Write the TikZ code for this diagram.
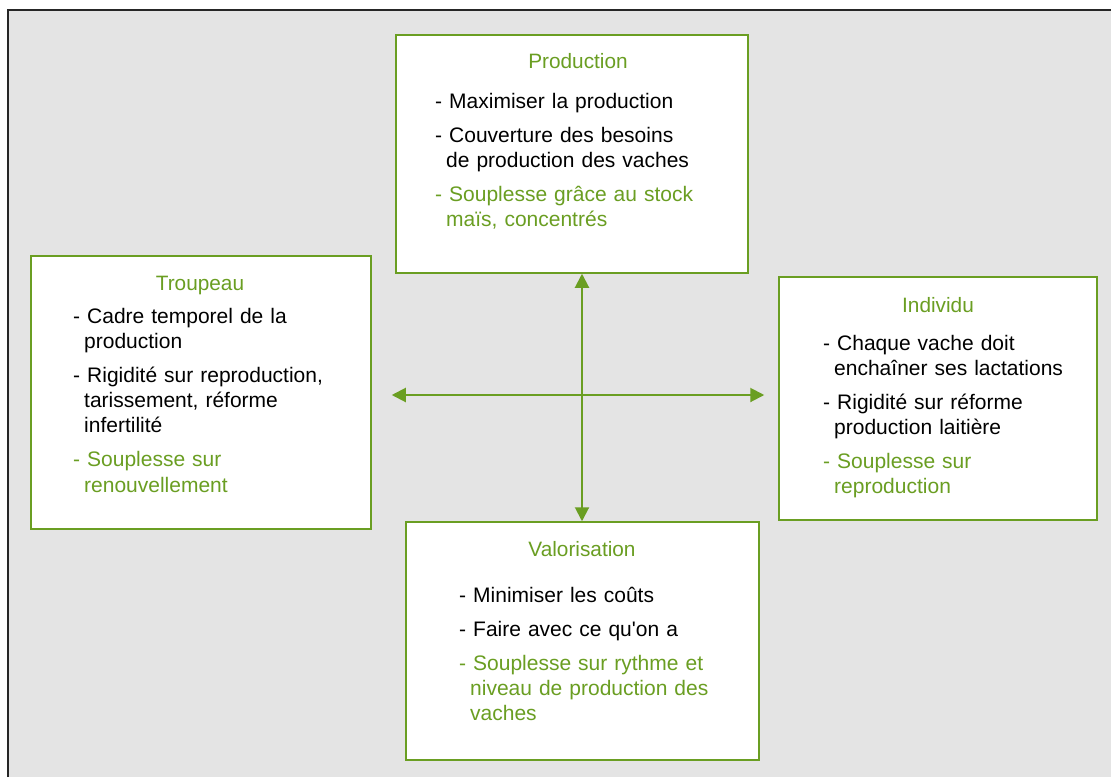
\documentclass[tikz,border=0pt]{standalone}
\usepackage{fontspec}
\setmainfont{Liberation Sans}
\usetikzlibrary{arrows.meta}

\definecolor{vert}{RGB}{106,158,34}
\definecolor{fond}{RGB}{228,228,228}

\tikzset{
  bloc/.style={draw=vert, line width=1.5pt, fill=white, inner sep=0pt},
  titre/.style={anchor=base, text=vert, inner sep=0pt, font=\fontsize{20.8}{25}\selectfont},
  liste/.style={anchor=base west, inner sep=0pt, text width=300pt, align=left, font=\fontsize{21}{25.3}\selectfont},
  fleche/.style={draw=vert, line width=2pt, {Triangle[length=14pt,width=14pt]}-{Triangle[length=14pt,width=14pt]}}
}
\newcommand{\ret}{\hspace*{11pt}}

\begin{document}
\begin{tikzpicture}[x=1pt,y=-1pt]
    			\useasboundingbox (0,0) rectangle (1111,777);
    			%Background
    			\fill[fond] (8,10) rectangle (1111,777);
    			\draw[line width=2pt, black!85] (8,777) -- (8,10) -- (1111,10);

    			%Boxes
    			\node[bloc, minimum width=352pt, minimum height=238pt] (prod) at (572,154) {};
    			\node[bloc, minimum width=340pt, minimum height=273pt] (troup) at (201,392.5) {};
    			\node[bloc, minimum width=318pt, minimum height=243pt] (indiv) at (938,398.5) {};
    			\node[bloc, minimum width=353pt, minimum height=238pt] (valo) at (582.5,641) {};

    			%Titles
    			\node[titre] (prodtitre) at (578,68) {Production};
    			\node[titre] (trouptitre) at (200,290) {Troupeau};
    			\node[titre] (indivtitre) at (938,312) {Individu};
    			\node[titre] (valotitre) at (582,556) {Valorisation};

    			%Lists
    			\node[liste] (prodliste) at (435,108) {- Maximiser la production\\[8.7pt]
      			- Couverture des besoins\\ \ret de production des vaches\\[8.7pt]
      			\color{vert}- Souplesse grâce au stock\\ \ret maïs, concentrés};
    			\node[liste] (troupliste) at (73,323) {- Cadre temporel de la\\ \ret production\\[8.7pt]
      			- Rigidité sur reproduction,\\ \ret tarissement, réforme\\ \ret infertilité\\[8.7pt]
      			\color{vert}- Souplesse sur\\ \ret renouvellement};
    			\node[liste] (indivliste) at (823,350) {- Chaque vache doit\\ \ret enchaîner ses lactations\\[8.7pt]
      			- Rigidité sur réforme\\ \ret production laitière\\[8.7pt]
      			\color{vert}- Souplesse sur\\ \ret reproduction};
    			\node[liste] (valoliste) at (459,602) {- Minimiser les coûts\\[8.7pt]
      			- Faire avec ce qu\textquotesingle on a\\[8.7pt]
      			\color{vert}- Souplesse sur rythme et\\ \ret niveau de production des\\ \ret vaches};

    			%Arrows
    			\coordinate (centre) at (582,395);
    			\draw[fleche] (prod.south -| centre) -- (valo.north -| centre);
    			\draw[fleche, shorten <=20pt, shorten >=14pt] (troup.east |- centre) -- (indiv.west |- centre);
\end{tikzpicture}
\end{document}
